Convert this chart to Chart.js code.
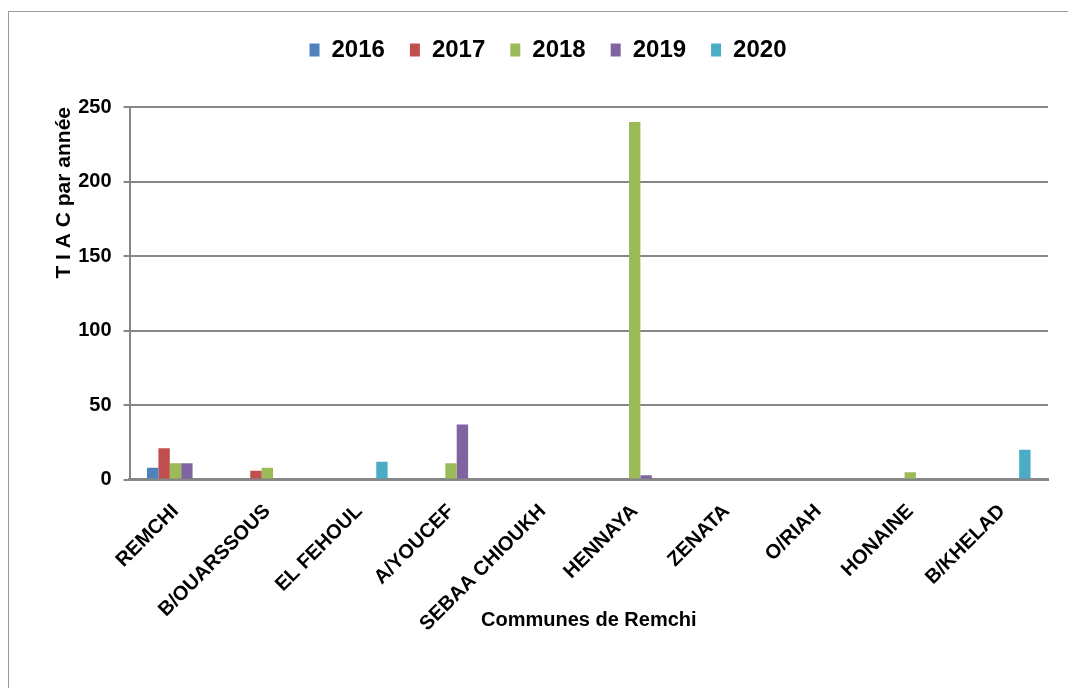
<!DOCTYPE html>
<html>
<head>
<meta charset="utf-8">
<script src="https://cdn.jsdelivr.net/npm/chart.js@4.4.1/dist/chart.umd.min.js"></script>
<style>
  html, body { margin: 0; padding: 0; background: #fff; }
  #wrap { width: 1068px; height: 688px; position: relative; }
</style>
</head>
<body>
<div id="wrap"><canvas id="mycanvas"></canvas></div>
<script>
// communes and yearly TIAC counts
var communes = ["REMCHI", "B/OUARSSOUS", "EL FEHOUL", "A/YOUCEF", "SEBAA CHIOUKH",
                "HENNAYA", "ZENATA", "O/RIAH", "HONAINE", "B/KHELAD"];
var years = ["2016", "2017", "2018", "2019", "2020"];
var v2016 = [8, 0, 0, 0, 0, 0, 0, 0, 0, 0];
var v2017 = [21, 6, 0, 0, 0, 0, 0, 0, 0, 0];
var v2018 = [11, 8, 0, 11, 0, 240, 0, 0, 5, 0];
var v2019 = [11, 0, 0, 37, 0, 3, 0, 0, 0, 0];
var v2020 = [0, 0, 12, 0, 0, 0, 0, 0, 0, 20];
var yTicks = [0, 50, 100, 150, 200, 250];

var colors = ["#4F81BD", "#C0504D", "#9BBB59", "#8064A2", "#4BACC6"];
var series = [v2016, v2017, v2018, v2019, v2020];
var font = "'Liberation Sans', Arial, sans-serif";

var datasets = [];
for (var i in years) {
	datasets.push({
		label: years[i],
		backgroundColor: colors[i],
		borderWidth: 0,
		categoryPercentage: 0.62,
		barPercentage: 1,
		data: series[i]
	});
}

// thin grey frame around the whole chart
var frame = {
	id: "frame",
	beforeDraw: function(chart) {
		var c = chart.ctx;
		c.save();
		c.strokeStyle = "#9a9a9a";
		c.lineWidth = 1;
		c.strokeRect(8.5, 11.5, 1200, 800);
		c.restore();
	}
};

// extra room between the legend and the plot
var legendGap = {
	id: "legendGap",
	beforeInit: function(chart) {
		var fit = chart.legend.fit;
		chart.legend.fit = function() {
			fit.bind(chart.legend)();
			this.height += 35;
		};
	}
};

var ctx = document.getElementById("mycanvas");
var graph = new Chart(ctx, {
	type: "bar",
	data: { labels: communes, datasets: datasets },
	plugins: [frame, legendGap],
	options: {
		responsive: true,
		maintainAspectRatio: false,
		animation: false,
		layout: { padding: { left: 48, right: 20, top: 13, bottom: 52 } },
		plugins: {
			tooltip: { enabled: false },
			legend: {
				position: "top",
				labels: {
					boxWidth: 10,
					boxHeight: 13,
					padding: 25,
					color: "#000",
					font: { family: font, size: 24, weight: "bold" }
				}
			}
		},
		scales: {
			x: {
				grid: { display: false },
				border: { display: true, color: "#868686", width: 3 },
				ticks: {
					maxRotation: 45,
					minRotation: 45,
					color: "#000",
					padding: 12,
					font: { family: font, size: 20, weight: "bold" }
				},
				title: {
					display: true,
					text: "Communes de Remchi",
					color: "#000",
					padding: { top: -40 },
					font: { family: font, size: 20, weight: "bold" }
				}
			},
			y: {
				min: 0,
				max: 250,
				afterBuildTicks: function(axis) {
					axis.ticks = yTicks.map(function(v) { return { value: v }; });
				},
				grid: { color: "#868686", lineWidth: 2, tickLength: 6 },
				border: { display: true, color: "#868686", width: 2 },
				ticks: {
					color: "#000",
					padding: 12,
					font: { family: font, size: 20, weight: "bold" }
				},
				title: {
					display: true,
					text: "T I A C par année",
					align: "end",
					color: "#000",
					padding: { bottom: -11 },
					font: { family: font, size: 21, weight: "bold" }
				}
			}
		}
	}
});
</script>
</body>
</html>
